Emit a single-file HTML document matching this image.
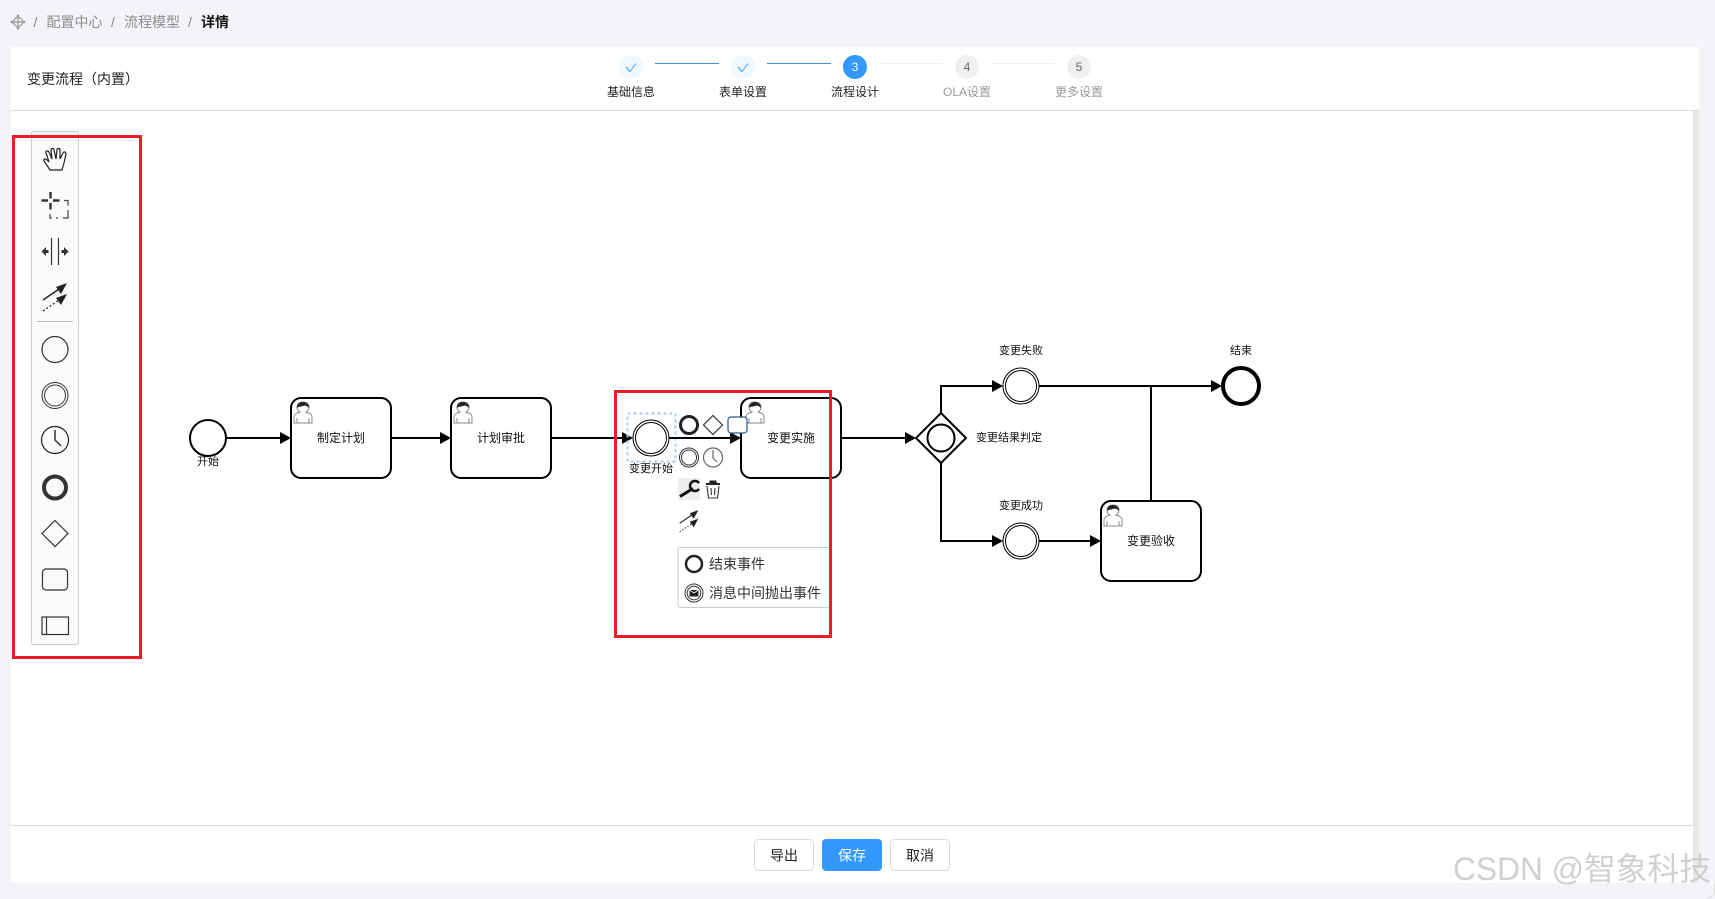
<!DOCTYPE html>
<html lang="zh">
<head>
<meta charset="utf-8">
<title>变更流程</title>
<style>
html,body{margin:0;padding:0;width:1715px;height:899px;overflow:hidden;background:#f2f4f8}
svg{display:block}
text{font-family:"Liberation Sans","Noto Sans CJK SC",sans-serif;dominant-baseline:central}
.d{font-size:11px;fill:#111;text-anchor:middle}
.t{font-size:12px;fill:#111;text-anchor:middle}
.s{font-size:12px;text-anchor:middle}
.w{fill:#fff;stroke:#000;stroke-width:2}
</style>
</head>
<body>
<svg width="1715" height="899" viewBox="0 0 1715 899" xmlns="http://www.w3.org/2000/svg">
<defs>
<g id="user">
  <path d="M-9 10v-6c0-3 3-4 6-5c-2-1-3-3-3-5c0-3 2-5 6-5s6 2 6 5c0 2-1 4-3 5c3 1 6 2 6 5v6z" fill="#fff" stroke="#888" stroke-width="1"/>
  <path d="M-6 -5c0-3 2-6 6-6s6 3 6 6c-2-2-4-3-6-2s-4 0-6 2z" fill="#222"/>
  <path d="M-6 10v-5M6 10v-5" stroke="#888" stroke-width="1" fill="none"/>
</g>
<g id="conn">
  <path d="M-12 3L4 -8" fill="none" stroke="#222" stroke-width="1.400"/>
  <path d="M12 -14L1 -10L6 -3z" fill="#222"/>
  <path d="M-12 14L4 3" fill="none" stroke="#222" stroke-width="1.200" stroke-dasharray="2 2"/>
  <path d="M12 -3L1 1L6 8z" fill="#222"/>
</g>
</defs>

<!-- breadcrumb -->
<g>
  <circle cx="18" cy="22" r="4.500" fill="none" stroke="#999" stroke-width="1.200"/>
  <path d="M18 15v14M11 22h14" stroke="#999" stroke-width="1.200"/>
  <path d="M18 14l-2 2.500h4zM18 30l-2-2.500h4zM10 22l2.500-2v4zM26 22l-2.500-2v4z" fill="#999"/>
</g>
<text x="35.500" y="22" style="font-size:14px;fill:#888;text-anchor:middle">/</text>
<text x="46.500" y="22" style="font-size:14px;fill:#8c8c8c">配置中心</text>
<text x="113" y="22" style="font-size:14px;fill:#888;text-anchor:middle">/</text>
<text x="124" y="22" style="font-size:14px;fill:#8c8c8c">流程模型</text>
<text x="190" y="22" style="font-size:14px;fill:#888;text-anchor:middle">/</text>
<text x="201" y="22" style="font-size:14px;fill:#111;font-weight:bold">详情</text>

<!-- card -->
<rect x="11" y="47" width="1688" height="836" fill="#fff"/>
<rect x="11" y="110" width="1688" height="1" fill="#dcdcdc"/>
<rect x="1693" y="111" width="6" height="772" rx="1" fill="#e8e8e8"/>
<rect x="11" y="825" width="1682" height="1" fill="#dcdcdc"/>
<text x="27" y="79" style="font-size:14px;fill:#222">变更流程（内置）</text>

<!-- steps -->
<g>
  <rect x="655" y="63" width="64" height="1" fill="#3f8fe8"/>
  <rect x="767" y="63" width="64" height="1" fill="#3f8fe8"/>
  <rect x="879" y="63" width="64" height="1" fill="#eeeeee"/>
  <rect x="991" y="63" width="64" height="1" fill="#eeeeee"/>
  <circle cx="631" cy="67" r="12" fill="#f0f8ff"/>
  <circle cx="743" cy="67" r="12" fill="#f0f8ff"/>
  <path d="M626 67l4 4.500l6-8" fill="none" stroke="#3f9bf5" stroke-width="1"/>
  <path d="M738 67l4 4.500l6-8" fill="none" stroke="#3f9bf5" stroke-width="1"/>
  <circle cx="855" cy="67" r="12" fill="#3399ff"/>
  <circle cx="967" cy="67" r="12" fill="#f0f0f0"/>
  <circle cx="1079" cy="67" r="12" fill="#f0f0f0"/>
  <text x="855" y="67" class="s" fill="#fff">3</text>
  <text x="967" y="67" class="s" fill="#666">4</text>
  <text x="1079" y="67" class="s" fill="#666">5</text>
  <text x="631" y="92" class="s" fill="#222">基础信息</text>
  <text x="743" y="92" class="s" fill="#222">表单设置</text>
  <text x="855" y="92" class="s" fill="#222">流程设计</text>
  <text x="967" y="92" class="s" fill="#999">OLA设置</text>
  <text x="1079" y="92" class="s" fill="#999">更多设置</text>
</g>

<!-- palette -->
<rect x="31.500" y="131.500" width="47" height="513" rx="2" fill="#fafafa" stroke="#cccccc"/>
<g>
  <path d="M50 170l-6-9c-1-2 1-3 3-1l2 2l-3-9c-1-2 2-3 3-1l3 7l-1-9c0-2 3-2 3 0l2 9l1-9c0-2 3-2 3 0l0 9l3-6c1-2 3-1 3 1l-2 9l-2 7z" fill="none" stroke="#222" stroke-width="1.200"/>
  <path d="M50.500 192v6.500M50.500 203v6.500M41.500 200.500h6.500M53 200.500h6.500" stroke="#333" stroke-width="2.400" fill="none"/>
  <path d="M64 200.500h4v5M68 210v8h-5M58 218h-2M52 218h-2v-4" fill="none" stroke="#444" stroke-width="1.200"/>
  <path d="M51.500 238v27M58.500 238v27" stroke="#333" stroke-width="1.200"/>
  <path d="M41.500 251.500l4.500-4.500v3h2.500v3H46v3zM68.500 251.500l-4.500-4.500v3h-2.500v3H64v3z" fill="#333"/>
  <g transform="translate(55 297)"><use href="#conn"/></g>
  <rect x="37" y="321" width="36" height="1" fill="#bbb"/>
  <circle cx="55" cy="349.500" r="13" fill="none" stroke="#333" stroke-width="1.200"/>
  <circle cx="55" cy="395.500" r="13" fill="none" stroke="#333" stroke-width="1"/>
  <circle cx="55" cy="395.500" r="10.500" fill="none" stroke="#333" stroke-width="1"/>
  <circle cx="55" cy="440" r="13.500" fill="none" stroke="#222" stroke-width="1.200"/>
  <path d="M55 430v10l6 6" fill="none" stroke="#333" stroke-width="1.500"/>
  <circle cx="55" cy="487.500" r="11" fill="none" stroke="#333" stroke-width="4"/>
  <path d="M55 520.500l13 13l-13 13l-13-13z" fill="none" stroke="#333" stroke-width="1.200"/>
  <rect x="42.500" y="569" width="25" height="21" rx="3.500" fill="none" stroke="#333" stroke-width="1.200"/>
  <rect x="42" y="617" width="26.500" height="17.500" fill="none" stroke="#333" stroke-width="1.200"/>
  <path d="M46.500 617v17.500" stroke="#333" stroke-width="1.200"/>
</g>

<!-- connections -->
<g fill="none" stroke="#000" stroke-width="2">
  <path d="M226 438H282"/>
  <path d="M391 438H442"/>
  <path d="M551 438H623"/>
  <path d="M841 438H907"/>
  <path d="M941 413V386H994"/>
  <path d="M941 463V541H994"/>
  <path d="M1039 386H1213"/>
  <path d="M1039 541H1091"/>
  <path d="M1151 501V386"/>
</g>
<g fill="#000">
  <path d="M280 432L291 438L280 444z"/>
  <path d="M440 432L451 438L440 444z"/>
  <path d="M622 432L633 438L622 444z"/>
  <path d="M905 432L916 438L905 444z"/>
  <path d="M992 380L1003 386L992 392z"/>
  <path d="M992 535L1003 541L992 547z"/>
  <path d="M1211 380L1222 386L1211 392z"/>
  <path d="M1090 535L1101 541L1090 547z"/>
</g>

<!-- nodes -->
<circle cx="208" cy="438" r="18" class="w"/>
<text x="208" y="462" class="d">开始</text>

<rect x="291" y="398" width="100" height="80" rx="10" class="w"/>
<g transform="translate(303 413)"><use href="#user"/></g>
<text x="341" y="438" class="t">制定计划</text>

<rect x="451" y="398" width="100" height="80" rx="10" class="w"/>
<g transform="translate(463 413)"><use href="#user"/></g>
<text x="501" y="438" class="t">计划审批</text>

<rect x="741" y="398" width="100" height="80" rx="10" class="w" style="fill:none"/>
<g transform="translate(755 413)"><use href="#user"/></g>
<text x="791" y="438" class="t">变更实施</text>

<rect x="627.500" y="413.500" width="48" height="48" fill="none" stroke="#a8c8ff" stroke-width="2" stroke-dasharray="3 3"/>
<circle cx="651" cy="438" r="18" fill="#fff" stroke="#000" stroke-width="1"/>
<circle cx="651" cy="438" r="15.500" fill="#fff" stroke="#000" stroke-width="1"/>
<path d="M669 438H732" fill="none" stroke="#000" stroke-width="2"/>
<path d="M730 432L741 438L730 444z" fill="#111"/>
<text x="651" y="469" class="d">变更开始</text>

<path d="M941 413L966 438L941 463L916 438z" class="w"/>
<circle cx="941" cy="438" r="13.500" class="w"/>
<text x="976" y="438" style="font-size:11px;fill:#111">变更结果判定</text>

<circle cx="1021" cy="386" r="18" fill="#fff" stroke="#000" stroke-width="1"/>
<circle cx="1021" cy="386" r="15.500" fill="#fff" stroke="#000" stroke-width="1"/>
<text x="1021" y="351" class="d">变更失败</text>

<circle cx="1021" cy="541" r="18" fill="#fff" stroke="#000" stroke-width="1"/>
<circle cx="1021" cy="541" r="15.500" fill="#fff" stroke="#000" stroke-width="1"/>
<text x="1021" y="506" class="d">变更成功</text>

<circle cx="1241" cy="386" r="18" fill="#fff" stroke="#000" stroke-width="4"/>
<text x="1241" y="351" class="d">结束</text>

<rect x="1101" y="501" width="100" height="80" rx="10" class="w"/>
<g transform="translate(1113 516)"><use href="#user"/></g>
<text x="1151" y="541" class="t">变更验收</text>

<!-- context pad -->
<circle cx="689" cy="425" r="8.500" fill="#fff" stroke="#222" stroke-width="3"/>
<path d="M713 415.500l9.500 9.500l-9.500 9.500l-9.500-9.500z" fill="#fff" stroke="#333" stroke-width="1.200"/>
<rect x="728" y="417" width="19" height="16" rx="3" fill="#fff" stroke="#2a5a8c" stroke-width="1.200"/>
<circle cx="689" cy="457.500" r="9.500" fill="#fff" stroke="#333" stroke-width="1"/>
<circle cx="689" cy="457.500" r="7.500" fill="#fff" stroke="#333" stroke-width="1"/>
<circle cx="713" cy="457.500" r="9.500" fill="#fff" stroke="#666" stroke-width="1.200"/>
<path d="M713 450v8l4 4" fill="none" stroke="#666" stroke-width="1.200"/>
<rect x="678" y="478" width="22" height="22" rx="2" fill="#eeeeee"/>
<path d="M680 496.500l13-8" stroke="#111" stroke-width="3" fill="none"/>
<path d="M699 483a5 5 0 1 0 0 6" stroke="#111" stroke-width="2.500" fill="none"/>
<path d="M706 484h14" fill="none" stroke="#222" stroke-width="2"/>
<path d="M709 483l1-2.500h6l1 2.500" fill="#222"/>
<path d="M707 486l1.500 12h9l1.500-12M711 488l0.500 7M715 488l-0.500 7" fill="none" stroke="#333" stroke-width="1.100"/>
<g transform="translate(689 521) scale(.78)"><use href="#conn"/></g>

<!-- popup -->
<path d="M831 547.500H680a2 2 0 0 0-2 2v56a2 2 0 0 0 2 2H831" fill="#fff" stroke="#ccc"/>
<circle cx="694" cy="564" r="8" fill="none" stroke="#222" stroke-width="2.500"/>
<text x="709" y="564" style="font-size:14px;fill:#333">结束事件</text>
<circle cx="694" cy="593" r="9" fill="none" stroke="#333" stroke-width="1"/>
<circle cx="694" cy="593" r="6.800" fill="none" stroke="#333" stroke-width="1"/>
<path d="M689.500 590h9v6.500h-9z" fill="#222"/>
<path d="M689.500 590l4.500 3l4.500-3" fill="none" stroke="#fff" stroke-width="0.800"/>
<text x="709" y="593" style="font-size:14px;fill:#333">消息中间抛出事件</text>

<!-- red marks -->
<rect x="13.500" y="136.500" width="127" height="521" fill="none" stroke="#ed1c24" stroke-width="3"/>
<rect x="615.500" y="391.500" width="215" height="245" fill="none" stroke="#ed1c24" stroke-width="3"/>

<!-- buttons -->
<rect x="754.500" y="839.500" width="59" height="31" rx="4" fill="#fff" stroke="#d9d9d9"/>
<rect x="822" y="839" width="60" height="32" rx="4" fill="#3399ff"/>
<rect x="890.500" y="839.500" width="59" height="31" rx="4" fill="#fff" stroke="#d9d9d9"/>
<text x="784" y="855.500" style="font-size:14px;fill:#222;text-anchor:middle">导出</text>
<text x="852" y="855.500" style="font-size:14px;fill:#fff;text-anchor:middle">保存</text>
<text x="920" y="855.500" style="font-size:14px;fill:#222;text-anchor:middle">取消</text>

<!-- window corner -->
<path d="M1714.500 884v6a8 8 0 0 1-8 8.500" fill="none" stroke="#dddddd"/>

<!-- watermark -->
<text x="1453" y="869" style="font-size:32px;fill:#c8c8c8;opacity:.85" textLength="258" lengthAdjust="spacingAndGlyphs">CSDN @智象科技</text>
</svg>
</body>
</html>
